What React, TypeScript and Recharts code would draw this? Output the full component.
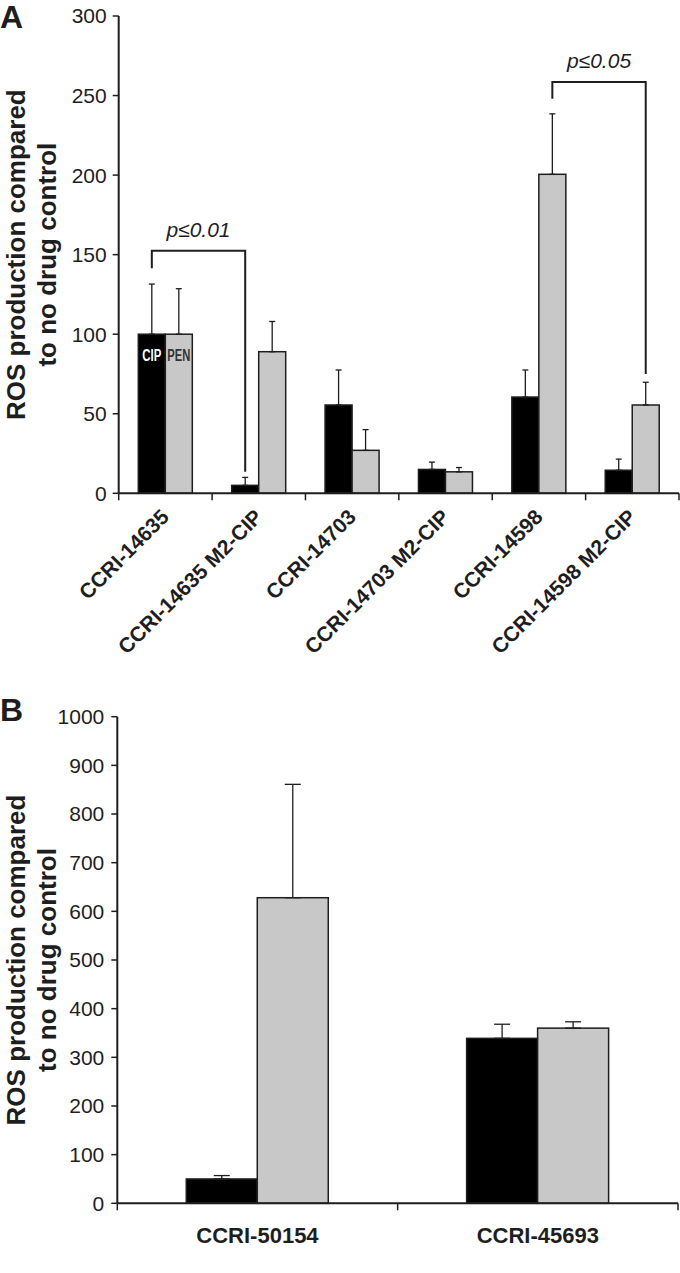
import React from "react";
import { BarChart, Bar, XAxis, YAxis, ErrorBar, Label } from "recharts";

const FONT = '"Liberation Sans", Arial, Helvetica, sans-serif';
const NARROW = '"Liberation Sans Narrow", "Arial Narrow", "Liberation Sans", sans-serif';
const INK = "#1e1e1e";
const GREY = "#c8c8c8";

// Panel A
const strainsA = [
  "CCRI-14635",
  "CCRI-14635 M2-CIP",
  "CCRI-14703",
  "CCRI-14703 M2-CIP",
  "CCRI-14598",
  "CCRI-14598 M2-CIP",
];
const cipA = [100, 5, 55.5, 15, 60.5, 14.5];
const cipErrA = [31.5, 5, 22, 4.6, 17, 7];
const penA = [100, 89, 27, 13.5, 200.5, 55.5];
const penErrA = [28.6, 19, 13, 2.7, 38, 14.3];
const ticksA = [0, 50, 100, 150, 200, 250, 300];

// significance brackets (values in data units)
const bracketsA = [
  { key: "cip", from: 0, to: 1, top: 152.5, fromEnd: 141.5, toEnd: 13.5, text: "p≤0.01" },
  { key: "pen", from: 4, to: 5, top: 258.5, fromEnd: 248, toEnd: 75, text: "p≤0.05" },
];

// Panel B
const strainsB = ["CCRI-50154", "CCRI-45693"];
const cipB = [50, 339];
const cipErrB = [7, 29];
const penB = [628, 360];
const penErrB = [233, 13];
const ticksB = [0, 100, 200, 300, 400, 500, 600, 700, 800, 900, 1000];

const dataA = strainsA.map((s, i) => ({
  strain: s,
  cip: cipA[i],
  pen: penA[i],
  cipErr: [0, cipErrA[i]],
  penErr: [0, penErrA[i]],
}));

const dataB = strainsB.map((s, i) => ({
  strain: s,
  cip: cipB[i],
  pen: penB[i],
  cipErr: [0, cipErrB[i]],
  penErr: [0, penErrB[i]],
}));

const seen: Record<string, { cx: number; base: number; k: number }> = {};

const makeShapeA = (key: "cip" | "pen", tag: string, tagColor: string) => (props: any) => {
  const { x, y, width, height, index, fill } = props;
  const value = props.payload ? props.payload[key] : props.value;
  const cx = x + width / 2;
  const base = y + height;
  const k = value ? height / value : 0;
  seen[key + index] = { cx, base, k };
  const extras: React.ReactNode[] = [];
  bracketsA
    .filter((b) => b.key === key && b.to === index)
    .forEach((b, j) => {
      const from = seen[key + b.from];
      if (!from) return;
      const py = (v: number) => from.base - v * from.k;
      const x0 = from.cx;
      extras.push(
        <g key={"b" + j}>
          <path
            d={`M${x0},${py(b.fromEnd)}V${py(b.top)}H${cx}V${py(b.toEnd)}`}
            fill="none"
            stroke={INK}
            strokeWidth={2}
          />
          <text
            x={(x0 + cx) / 2}
            y={py(b.top) - 14}
            textAnchor="middle"
            fontFamily={FONT}
            fontStyle="italic"
            fontSize={21}
            fill={INK}
          >
            {b.text}
          </text>
        </g>
      );
    });
  return (
    <g>
      <rect x={x} y={y} width={width} height={height} fill={fill} stroke={INK} strokeWidth={1.5} />
      {index === 0 && (
        <text
          x={cx}
          y={y + 27}
          textAnchor="middle"
          fontFamily={NARROW}
          fontWeight="bold"
          fontSize={16}
          fill={tagColor}
          textLength={tag === "CIP" ? 19 : 23}
          lengthAdjust="spacingAndGlyphs"
        >
          {tag}
        </text>
      )}
      {extras}
    </g>
  );
};

const plainShape = (props: any) => {
  const { x, y, width, height, fill } = props;
  return <rect x={x} y={y} width={width} height={height} fill={fill} stroke={INK} strokeWidth={1.5} />;
};

const boundaryTicks = (p: any) => {
  const { x, y, payload, index, width, visibleTicksCount } = p;
  const half =
    payload && typeof payload.offset === "number" && payload.offset > 0
      ? payload.offset
      : width / (visibleTicksCount || 1) / 2;
  return (
    <>
      {index === 0 && <line x1={x - half} x2={x - half} y1={y} y2={y + 7} stroke={INK} strokeWidth={1.5} />}
      <line x1={x + half} x2={x + half} y1={y} y2={y + 7} stroke={INK} strokeWidth={1.5} />
    </>
  );
};

const TickA = (p: any) => {
  const { x, y, payload } = p;
  return (
    <g>
      {boundaryTicks(p)}
      <text
        transform={`translate(${x + 5},${y + 25}) rotate(-45)`}
        textAnchor="end"
        fontFamily={FONT}
        fontWeight="bold"
        fontSize={21}
        fill={INK}
      >
        {payload.value}
      </text>
    </g>
  );
};

const TickB = (p: any) => {
  const { x, y, payload } = p;
  return (
    <g>
      {boundaryTicks(p)}
      <text x={x} y={y + 40} textAnchor="middle" fontFamily={FONT} fontWeight="bold" fontSize={22} fill={INK}>
        {payload.value}
      </text>
    </g>
  );
};

const YTitle = ({ viewBox, letter, letterY, shift }: any) => {
  const vb = viewBox || {};
  const cy = (vb.y ?? 0) + (vb.height ?? 0) / 2 + (shift || 0);
  return (
    <g fontFamily={FONT} fontWeight="bold" fill={INK}>
      <text x={0} y={letterY} fontSize={32}>
        {letter}
      </text>
      <text x={25} y={cy} transform={`rotate(-90, 25, ${cy})`} textAnchor="middle" fontSize={26}>
        ROS production compared
      </text>
      <text x={56} y={cy} transform={`rotate(-90, 56, ${cy})`} textAnchor="middle" fontSize={26}>
        to no drug control
      </text>
    </g>
  );
};

const yTick = { fill: INK, fontSize: 21, fontFamily: FONT };

export default function App() {
  return (
    <div style={{ position: "absolute", left: 0, top: 0, width: 680, height: 1273, background: "#fff" }}>
      <div style={{ position: "absolute", left: 0, top: 0 }}>
        <BarChart
          width={680}
          height={690}
          data={dataA}
          margin={{ top: 16, right: 1, left: 0, bottom: 0 }}
          barCategoryGap="21%"
          barGap={0}
        >
          <XAxis
            dataKey="strain"
            height={196.7}
            interval={0}
            tickLine={false}
            tickSize={0}
            tickMargin={0}
            axisLine={{ stroke: INK, strokeWidth: 2 }}
            tick={<TickA />}
          />
          <YAxis
            width={118.7}
            domain={[0, 300]}
            ticks={ticksA}
            interval={0}
            tickSize={6}
            tickMargin={6}
            axisLine={{ stroke: INK, strokeWidth: 2 }}
            tickLine={{ stroke: INK, strokeWidth: 1.5 }}
            tick={yTick}
          >
            <Label content={(props: any) => <YTitle {...props} letter="A" letterY={28} shift={0} />} />
          </YAxis>
          <Bar dataKey="cip" fill="#000" shape={makeShapeA("cip", "CIP", "#fff")} isAnimationActive={false}>
            <ErrorBar dataKey="cipErr" direction="y" width={3} stroke={INK} strokeWidth={1.3} isAnimationActive={false} />
          </Bar>
          <Bar dataKey="pen" fill={GREY} shape={makeShapeA("pen", "PEN", "#333")} isAnimationActive={false}>
            <ErrorBar dataKey="penErr" direction="y" width={3} stroke={INK} strokeWidth={1.3} isAnimationActive={false} />
          </Bar>
        </BarChart>
      </div>
      <div style={{ position: "absolute", left: 0, top: 690 }}>
        <BarChart
          width={680}
          height={583}
          data={dataB}
          margin={{ top: 26.7, right: 2, left: 0, bottom: 0 }}
          barCategoryGap="24.6%"
          barGap={0}
        >
          <XAxis
            dataKey="strain"
            height={69.7}
            interval={0}
            tickLine={false}
            tickSize={0}
            tickMargin={0}
            axisLine={{ stroke: INK, strokeWidth: 2 }}
            tick={<TickB />}
          />
          <YAxis
            width={117.3}
            domain={[0, 1000]}
            ticks={ticksB}
            interval={0}
            tickSize={6}
            tickMargin={7}
            axisLine={{ stroke: INK, strokeWidth: 2 }}
            tickLine={{ stroke: INK, strokeWidth: 1.5 }}
            tick={yTick}
          >
            <Label content={(props: any) => <YTitle {...props} letter="B" letterY={31} shift={0} />} />
          </YAxis>
          <Bar dataKey="cip" fill="#000" shape={plainShape} isAnimationActive={false}>
            <ErrorBar dataKey="cipErr" direction="y" width={8} stroke={INK} strokeWidth={1.3} isAnimationActive={false} />
          </Bar>
          <Bar dataKey="pen" fill={GREY} shape={plainShape} isAnimationActive={false}>
            <ErrorBar dataKey="penErr" direction="y" width={8} stroke={INK} strokeWidth={1.3} isAnimationActive={false} />
          </Bar>
        </BarChart>
      </div>
    </div>
  );
}
